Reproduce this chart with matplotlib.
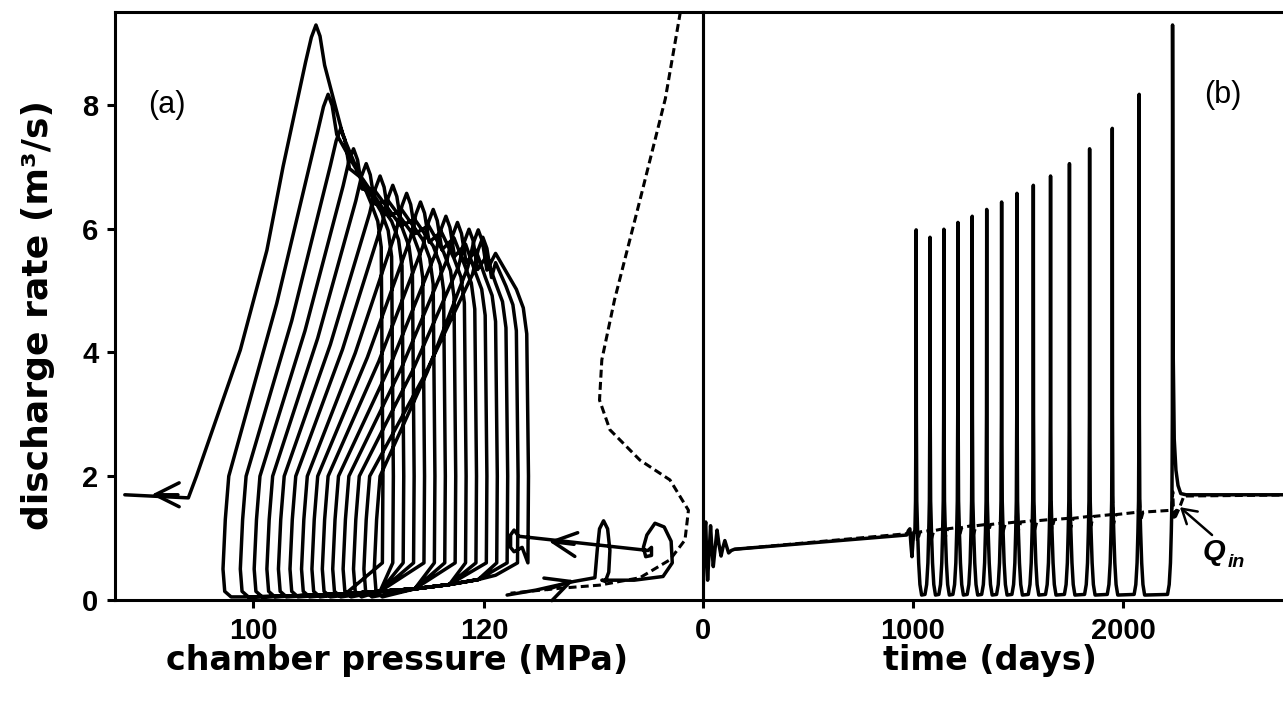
import matplotlib
matplotlib.use("Agg")
import matplotlib.pyplot as plt

plt.rcParams['font.family'] = ['Liberation Sans', 'DejaVu Sans']

# ---------------- panel (a): discharge rate vs chamber pressure ----------------
# start-up transient (time order)
init_p = [122.0, 124.5, 127.8, 129.6, 129.8, 130.0, 130.35, 130.7, 130.9, 130.8, 130.5, 130.2,
          131.0, 133.0, 135.5, 136.3, 136.2, 135.6, 134.8, 134.1, 133.8, 134.0, 134.5, 134.5, 134.2]
init_q = [0.08, 0.16, 0.30, 0.36, 0.80, 1.15, 1.28, 1.15, 0.80, 0.45, 0.30, 0.32,
          0.32, 0.32, 0.38, 0.60, 0.95, 1.18, 1.24, 1.05, 0.85, 0.70, 0.72, 0.85, 0.80]
# slow drift to the onset of cycling, plus the small wiggle before the first spike
drift_p = [123.0, 122.6, 122.3, 122.3, 122.6, 123.3]
drift_q = [1.03, 1.13, 1.05, 0.85, 0.78, 0.85]

# one entry per eruptive cycle (first -> last)
loop_peak_p = [119.5, 119.9, 118.7, 117.7, 116.7, 115.6, 114.5, 113.3, 112.1, 111.0, 109.8, 108.7, 107.6, 106.5, 105.45]
loop_peak_q = [5.98, 5.86, 5.99, 6.10, 6.20, 6.31, 6.43, 6.57, 6.70, 6.85, 7.05, 7.29, 7.62, 8.17, 9.29]
loop_right_p = [123.8, 122.9, 122.0, 121.1, 120.2, 119.3, 118.4, 117.5, 116.6, 115.7, 114.8, 113.9, 113.0, 112.1, 111.2]
loop_right_top = [4.30, 4.35, 4.40, 4.50, 4.60, 4.70, 4.80, 4.90, 5.00, 5.10, 5.20, 5.30, 5.40, 5.55, 5.70]
loop_shoulder_p = [121.0, 121.0, 120.2, 119.3, 118.4, 117.4, 116.3, 115.2, 114.0, 112.9, 111.7, 110.6, 109.5, 108.5, 107.8]
loop_shoulder_q = [5.60, 5.45, 5.55, 5.65, 5.75, 5.85, 5.95, 6.05, 6.15, 6.30, 6.45, 6.60, 6.80, 7.10, 7.50]
# falling limb: a point half way down, then the foot where discharge returns to ~0
loop_mid_p = [115.1, 114.85, 113.8, 112.85, 111.9, 110.9, 109.9, 108.85, 107.75, 106.7, 105.6, 104.5, 103.35, 102.05]
loop_mid_q = [3.69, 3.63, 3.70, 3.75, 3.80, 3.86, 3.92, 3.99, 4.05, 4.13, 4.23, 4.35, 4.51, 4.79]
loop_foot_p = [110.5, 109.6, 108.7, 107.8, 106.9, 106.0, 105.1, 104.2, 103.2, 102.2, 101.2, 100.1, 98.9, 97.4]

# recharge path along the bottom (shared by the cycles)
bottom_p = [100.0, 104.0, 108.0, 111.0, 114.0, 117.0, 119.5, 121.0, 122.5]
bottom_q = [0.05, 0.07, 0.10, 0.14, 0.18, 0.25, 0.33, 0.40, 0.52]

# falling limb of the last cycle and the new steady state
final_p = [102.6, 101.2, 98.9, 95.1, 94.4, 88.9]
final_q = [7.00, 5.65, 4.04, 2.00, 1.65, 1.70]

# dashed curve
dash_p = [137.0, 135.7, 133.5, 131.3, 130.2, 130.0, 130.9, 133.5, 136.1, 137.7, 137.4,
          136.1, 133.5, 130.0, 126.6, 122.3]
dash_q = [9.50, 8.10, 6.46, 4.85, 3.88, 3.23, 2.75, 2.26, 1.94, 1.45, 0.97,
          0.65, 0.36, 0.24, 0.19, 0.11]

# ---------------- panel (b): discharge rate vs time ----------------
b_t_init = [0, 4, 9, 13, 17, 22, 29, 36, 42, 49, 58, 67, 76, 86, 95, 104, 113, 122, 135, 150,
            970, 978, 985, 990, 995, 1000, 1005]
b_q_init = [0.0, 0.70, 1.15, 1.26, 0.75, 0.32, 0.75, 1.20, 0.85, 0.54, 0.85, 1.13, 0.90, 0.71, 0.85,
            0.96, 0.86, 0.76, 0.80, 0.82, 1.05, 1.12, 1.15, 0.90, 0.70, 0.95, 1.10]
spike_t = [1015, 1081, 1147, 1214, 1282, 1351, 1422, 1495, 1573, 1655, 1745, 1841, 1949, 2077, 2236]
spike_q = loop_peak_q
# shape of one spike, days relative to the peak
rise_dt = [-24, -16, -10, -6, -3, -1]
rise_q = [0.09, 0.25, 0.60, 1.10, 1.60, 3.00]
fall_dt = [1, 3, 7, 12, 18, 26]
fall_q = [3.00, 1.60, 1.10, 0.60, 0.25, 0.08]
tail_t = [2239, 2244, 2252, 2262, 2275, 2300, 2900]
tail_q = [4.00, 2.60, 2.10, 1.85, 1.72, 1.70, 1.70]

qin_base = [1.10, 1.12, 1.15, 1.17, 1.20, 1.22, 1.24, 1.26, 1.28, 1.30, 1.32, 1.35, 1.38, 1.42, 1.45]
qin_dt = [-4, 1, 6, 18]
qin_dq = [0.0, 0.30, -0.15, 0.0]
qin_tail_t = [2250, 2270, 2290, 2900]
qin_tail_q = [1.35, 1.50, 1.68, 1.70]


def phase_track():
    p = list(init_p) + list(drift_p)
    q = list(init_q) + list(drift_q)
    n = len(loop_peak_p)
    for k in range(n):
        r, top = loop_right_p[k], loop_right_top[k]
        pk, qk = loop_peak_p[k], loop_peak_q[k]
        # rise at nearly constant pressure, then bend towards the peak
        p += [r, r + 0.05, r - 0.1, r - 0.4, r - 1.0]
        q += [0.60, 2.0, top, top + 0.42, top + 0.72]
        p += [loop_shoulder_p[k], pk + 0.75, pk + 0.35, pk, pk - 0.4, pk - 0.9]
        q += [loop_shoulder_q[k], qk - 0.65, qk - 0.18, qk, qk - 0.20, qk - 0.60]
        if k == n - 1:
            p += final_p
            q += final_q
            break
        f = loop_foot_p[k]
        p += [loop_mid_p[k], f + 0.5, f + 0.2, f, f + 0.15, f + 0.7]
        q += [loop_mid_q[k], 2.0, 1.3, 0.5, 0.14, 0.05]
        r_next = loop_right_p[k + 1]
        for bp, bq in zip(bottom_p, bottom_q):
            if f + 2 < bp < r_next - 1:
                p.append(bp)
                q.append(bq)
    return p, q


def time_track():
    t = list(b_t_init)
    q = list(b_q_init)
    for k, (tk, qk) in enumerate(zip(spike_t, spike_q)):
        for dt, dq in zip(rise_dt, rise_q):
            if tk + dt > t[-1]:
                t.append(tk + dt)
                q.append(dq)
        t.append(tk)
        q.append(qk)
        if k == len(spike_t) - 1:
            t += tail_t
            q += tail_q
        else:
            t += [tk + dt for dt in fall_dt]
            q += list(fall_q)
    return t, q


def qin_track():
    t = [150, 1000]
    q = [0.82, 1.08]
    for tk, base in zip(spike_t, qin_base):
        for dt, dq in zip(qin_dt, qin_dq):
            t.append(tk + dt)
            q.append(base + dq)
    t += qin_tail_t
    q += qin_tail_q
    return t, q


fig = plt.figure(figsize=(12.83, 7.03), dpi=100)
W, H = 1283.0, 703.0
ax1 = fig.add_axes([115 / W, 103 / H, 588 / W, 588 / H])
ax2 = fig.add_axes([703 / W, 103 / H, 600 / W, 588 / H])
ax2.patch.set_visible(False)

lw = 2.5
arrow = dict(arrowstyle='->,head_length=0.86,head_width=0.43', lw=lw, color='k',
             shrinkA=0, shrinkB=0, mutation_scale=20)

pp, pq = phase_track()
ax1.plot(pp, pq, color='k', lw=lw, solid_joinstyle='round', solid_capstyle='round')
ax1.plot(dash_p, dash_q, color='k', lw=2.2, ls=(0, (2.6, 1.4)))
ax1.annotate('', xy=(91.2, 1.7), xytext=(93.5, 1.7), arrowprops=arrow)
ax1.annotate('', xy=(127.8, 0.32), xytext=(125.5, 0.17), arrowprops=arrow)
ax1.annotate('', xy=(125.6, 0.95), xytext=(127.8, 0.90), arrowprops=arrow)

ax1.set_xlim(88.05, 138.96)
ax1.set_ylim(0, 9.5)
ax1.set_xticks([100, 120])
ax1.set_yticks([0, 2, 4, 6, 8])
ax1.text(0.056, 0.842, '(a)', transform=ax1.transAxes, fontsize=22, va='center', ha='left')

tt, tq = time_track()
it, iq = qin_track()
ax2.plot(it, iq, color='k', lw=2.2, ls=(0, (2.6, 1.4)))
ax2.plot(tt, tq, color='k', lw=lw, solid_joinstyle='round')
ax2.set_xlim(0, 600 / 0.21)
ax2.set_ylim(0, 9.5)
ax2.set_xticks([0, 1000, 2000])
ax2.set_yticks([])
ax2.spines['right'].set_visible(False)
ax2.text(0.867, 0.859, '(b)', transform=ax2.transAxes, fontsize=22, va='center', ha='center')
ax2.annotate('', xy=(2271, 1.50), xytext=(2424, 1.05),
             arrowprops=dict(arrowstyle='->,head_length=0.5,head_width=0.3', lw=1.8,
                             color='k', shrinkA=0, shrinkB=0, mutation_scale=20))
ax2.text(2433, 0.78, 'Q', fontsize=21, fontweight='bold', fontstyle='italic', ha='center', va='center')
ax2.text(2538, 0.61, 'in', fontsize=14, fontweight='bold', fontstyle='italic', ha='center', va='center')

for ax in (ax1, ax2):
    for s in ax.spines.values():
        s.set_linewidth(2.2)
    ax.tick_params(direction='out', length=6, width=2.2, labelsize=21, pad=6)
    for lab in ax.get_xticklabels() + ax.get_yticklabels():
        lab.set_fontweight('bold')

ax1.set_xlabel('chamber pressure (MPa)', fontsize=24, fontweight='bold', family='DejaVu Sans')
ax2.set_xlabel('time (days)', fontsize=24, fontweight='bold', family='DejaVu Sans')
ax1.set_ylabel('discharge rate (m³/s)', fontsize=26, fontweight='bold', family='DejaVu Sans')
ax1.xaxis.set_label_coords(0.4796, -0.075)
ax2.xaxis.set_label_coords(0.478, -0.075)
ax1.yaxis.set_label_coords(-0.102, 0.485)

fig.savefig('out.png', dpi=100)
